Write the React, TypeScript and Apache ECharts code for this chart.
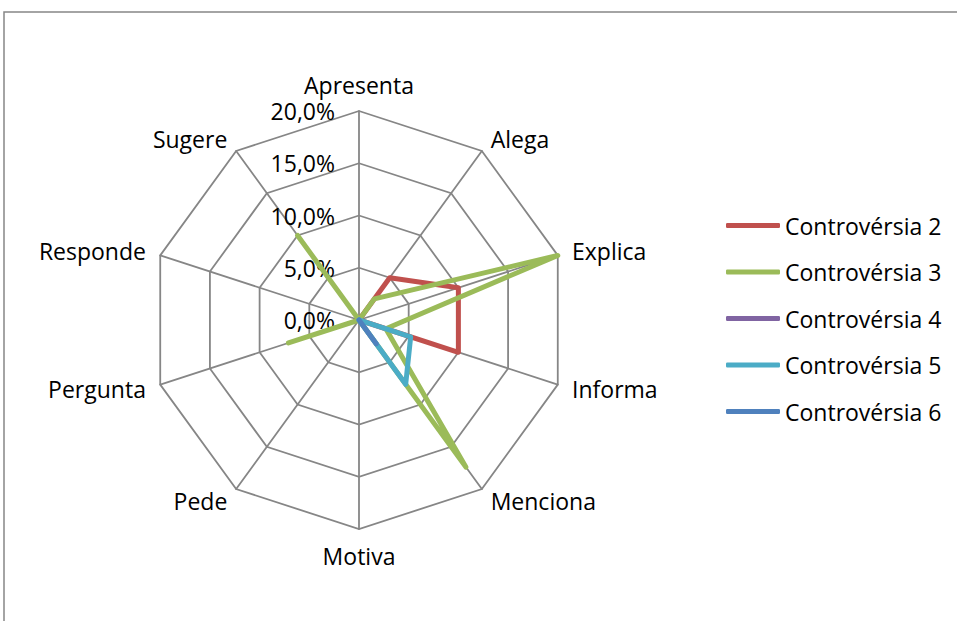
import React, { useEffect, useRef } from 'react';
import * as echarts from 'echarts';

const categories = ['Apresenta', 'Alega', 'Explica', 'Informa', 'Menciona', 'Motiva', 'Pede', 'Pergunta', 'Responde', 'Sugere'];
const seriesNames = ['Controvérsia 2', 'Controvérsia 3', 'Controvérsia 4', 'Controvérsia 5', 'Controvérsia 6'];
const controversia2 = [0, 5, 10, 10, 0, 0, 0, 0, 0, 0];
const controversia3 = [0, 2.5, 20, 2.7, 17.4, 0, 0, 7.1, 0, 10];
const controversia4 = [0, 0, 0, 0, 0, 0, 0, 0, 0, 0];
const controversia5 = [0, 0, 0, 5.2, 7.6, 0, 0, 0, 0, 0];
const controversia6 = [0, 0, 0, 0, 2.8, 0, 0, 0, 0, 0];
const seriesValues = [controversia2, controversia3, controversia4, controversia5, controversia6];
const colors = ['#C0504D', '#9BBB59', '#8064A2', '#4BACC6', '#4F81BD'];
const axisMin = 0;
const axisMax = 20;
const axisSplits = 4;

const FONT = '"Open Sans", "Noto Sans", sans-serif';

// ECharts lays out radar indicators counter-clockwise; reorder to get clockwise.
function clockwise<T>(arr: T[]): T[] {
  return [arr[0], ...arr.slice(1).reverse()];
}

export default function App() {
  const ref = useRef<HTMLDivElement>(null);
  useEffect(() => {
    if (!ref.current) return;
    const chart = echarts.init(ref.current, undefined, { renderer: 'svg' });
    const ordered = clockwise(categories);
    const option: any = {
      animation: false,
      backgroundColor: '#ffffff',
      graphic: [
        {
          type: 'rect',
          shape: { x: 4, y: 12, width: 1100, height: 800 },
          style: { fill: 'none', stroke: '#868686', lineWidth: 1.5 },
          silent: true,
          z: -1,
        },
      ],
      legend: {
        orient: 'vertical',
        left: 721,
        top: 209,
        icon: 'roundRect',
        itemWidth: 54,
        itemHeight: 5,
        itemGap: 23.5,
        data: seriesNames,
        textStyle: { fontFamily: FONT, fontSize: 23, color: '#000', lineHeight: 23 },
      },
      radar: {
        center: [359, 320],
        radius: 209,
        startAngle: 90,
        splitNumber: axisSplits,
        shape: 'polygon',
        nameGap: 15,
        axisName: { color: '#000', fontFamily: FONT, fontSize: 23 },
        splitLine: { lineStyle: { color: '#868686', width: 1.8 } },
        splitArea: { show: false },
        axisLine: { lineStyle: { color: '#868686', width: 1.8 } },
        axisTick: { show: false },
        axisLabel: {
          show: false,
          color: '#000',
          fontFamily: FONT,
          fontSize: 23,
          margin: 24,
          formatter: (v: number) => v.toFixed(1).replace('.', ',') + '%',
        },
        indicator: ordered.map((name, i) => ({
          name,
          min: axisMin,
          max: axisMax,
          axisLabel: { show: i === 0 },
        })),
      },
      series: [
        {
          type: 'radar',
          symbol: 'none',
          data: seriesNames.map((name, i) => ({
            name,
            value: clockwise(seriesValues[i]),
            itemStyle: { color: colors[i] },
            lineStyle: { color: colors[i], width: 5, cap: 'round', join: 'round' },
          })),
        },
      ],
    };
    chart.setOption(option);
    return () => chart.dispose();
  }, []);
  return (
    <div
      ref={ref}
      style={{ position: 'absolute', left: 0, top: 0, width: 957, height: 621 }}
    />
  );
}
